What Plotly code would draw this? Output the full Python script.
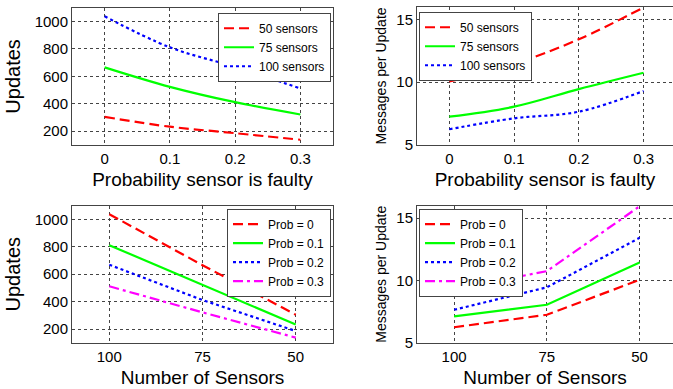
import plotly.graph_objects as go

# ---- data ----
prob = [0, 0.1, 0.2, 0.3]
sensors = [100, 75, 50]
prob_tick_labels = ["0", "0.1", "0.2", "0.3"]
sensor_tick_labels = ["100", "75", "50"]

updates_50 = [305, 233, 186, 138]
updates_75 = [666, 524, 412, 322]
updates_100 = [1038, 812, 669, 512]

msgs_50 = [10.05, 11.45, 13.42, 15.95]
msgs_75 = [7.25, 8.05, 9.45, 10.75]
msgs_100 = [6.25, 7.12, 7.65, 9.3]

series_names = ["50 sensors", "75 sensors", "100 sensors"]
prob_names = ["Prob = 0", "Prob = 0.1", "Prob = 0.2", "Prob = 0.3"]

FONT = "Liberation Sans, Arial, sans-serif"
colors = ["#ff0000", "#00ff00", "#0000ff", "#ff00ff"]
dashes = ["10px,5px", "solid", "3px,3px", "10px,4px,3px,4px"]

fig = go.Figure()

upd_by_sensor = {50: updates_50, 75: updates_75, 100: updates_100}
msg_by_sensor = {50: msgs_50, 75: msgs_75, 100: msgs_100}

# top-left
for i, s in enumerate([50, 75, 100]):
    fig.add_trace(go.Scatter(x=prob, y=upd_by_sensor[s], mode="lines", name=series_names[i],
                             line=dict(color=colors[i], dash=dashes[i], width=2.2, shape="spline"),
                             xaxis="x", yaxis="y", legend="legend"))
# top-right
for i, s in enumerate([50, 75, 100]):
    fig.add_trace(go.Scatter(x=prob, y=msg_by_sensor[s], mode="lines", name=series_names[i],
                             line=dict(color=colors[i], dash=dashes[i], width=2.2, shape="spline"),
                             xaxis="x2", yaxis="y2", legend="legend2"))
# bottom-left
for j in range(len(prob)):
    fig.add_trace(go.Scatter(x=sensors, y=[upd_by_sensor[s][j] for s in sensors], mode="lines",
                             name=prob_names[j],
                             line=dict(color=colors[j], dash=dashes[j], width=2.2),
                             xaxis="x3", yaxis="y3", legend="legend3"))
# bottom-right
for j in range(len(prob)):
    fig.add_trace(go.Scatter(x=sensors, y=[msg_by_sensor[s][j] for s in sensors], mode="lines",
                             name=prob_names[j],
                             line=dict(color=colors[j], dash=dashes[j], width=2.2),
                             xaxis="x4", yaxis="y4", legend="legend4"))

W, H = 673, 389
def dx(a, b):
    return [a / W, b / W]
def dy(top, bottom):
    return [1 - bottom / H, 1 - top / H]

axis_common = dict(showgrid=True, gridcolor="#444", griddash="dot", gridwidth=1,
                   showline=True, linecolor="#444", linewidth=1, ticks="",
                   zeroline=False, tickfont=dict(family=FONT, size=15, color="black"))

title_font = dict(family=FONT, size=19, color="black")

fig.update_layout(
    width=W, height=H, margin=dict(l=0, r=0, t=0, b=0),
    paper_bgcolor="white", plot_bgcolor="white",
    font=dict(family=FONT, color="black"),
    xaxis=dict(axis_common, domain=dx(72, 333), range=[-0.05, 0.35], mirror=True,
               tickvals=prob, ticktext=prob_tick_labels, anchor="y",
               title=dict(text="Probability sensor is faulty", font=title_font, standoff=6)),
    yaxis=dict(axis_common, domain=dy(8, 148), range=[100, 1100], mirror=True,
               tickvals=[200, 400, 600, 800, 1000], anchor="x",
               title=dict(text="Updates", font=dict(family=FONT, size=20, color="black"), standoff=8)),
    xaxis2=dict(axis_common, domain=dx(417, 673), range=[-0.05, 0.3455], mirror=True,
                tickvals=prob, ticktext=prob_tick_labels, anchor="y2",
                title=dict(text="Probability sensor is faulty", font=title_font, standoff=6)),
    yaxis2=dict(axis_common, domain=dy(7, 148), range=[5, 16], mirror=False,
                tickvals=[5, 10, 15], anchor="x2",
                title=dict(text="Messages per Update", font=dict(family=FONT, size=14, color="black"), standoff=6)),
    xaxis3=dict(axis_common, domain=dx(72, 333), range=[110, 40], mirror=True,
                tickvals=sensors, ticktext=sensor_tick_labels, anchor="y3",
                title=dict(text="Number of Sensors", font=title_font, standoff=6)),
    yaxis3=dict(axis_common, domain=dy(210, 350), range=[100, 1100], mirror=True,
                tickvals=[200, 400, 600, 800, 1000], anchor="x3",
                title=dict(text="Updates", font=dict(family=FONT, size=20, color="black"), standoff=8)),
    xaxis4=dict(axis_common, domain=dx(417, 673), range=[110, 41], mirror=True,
                tickvals=sensors, ticktext=sensor_tick_labels, anchor="y4",
                title=dict(text="Number of Sensors", font=title_font, standoff=6)),
    yaxis4=dict(axis_common, domain=dy(210, 350), range=[5, 16], mirror=False,
                tickvals=[5, 10, 15], anchor="x4",
                title=dict(text="Messages per Update", font=dict(family=FONT, size=14, color="black"), standoff=6)),
)

leg_common = dict(bgcolor="white", bordercolor="#444", borderwidth=1,
                  font=dict(family=FONT, size=12, color="black"),
                  yanchor="top", itemwidth=30, tracegroupgap=0)
fig.update_layout(
    legend=dict(leg_common, x=331 / W, xanchor="right", y=1 - 13 / H),
    legend2=dict(leg_common, x=419 / W, xanchor="left", y=1 - 12 / H),
    legend3=dict(leg_common, x=331 / W, xanchor="right", y=1 - 213 / H),
    legend4=dict(leg_common, x=419 / W, xanchor="left", y=1 - 213 / H),
)

fig.write_html("out.html")
